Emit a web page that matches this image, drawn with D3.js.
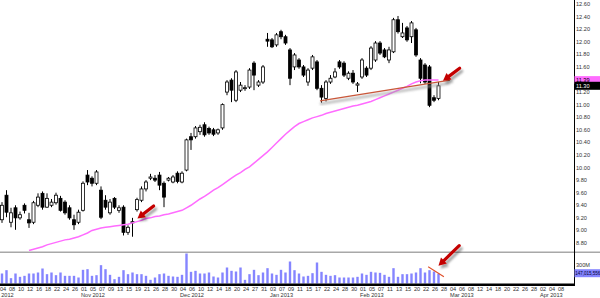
<!DOCTYPE html>
<html>
<head>
<meta charset="utf-8">
<script src="https://cdn.jsdelivr.net/npm/d3@7"></script>
<style>
  body { margin: 0; background: #fff; }
  svg { display: block; font-family: "Liberation Sans", Arial, sans-serif; }
</style>
</head>
<body>
<div id="chart"></div>
<script>
var svgWidth = 600;
var svgHeight = 298;

// trading calendar
var firstDay = "2012-10-01";
var lastDay = "2013-04-09";
var dataStart = "2012-10-04";
var holidays = ["2012-10-29", "2012-10-30", "2012-11-22", "2012-12-25",
  "2013-01-01", "2013-01-21", "2013-02-18", "2013-03-29"];

// daily candles, Oct 04 2012 .. Feb 27 2013
var open = [9.17, 9.56, 9.13, 9.36, 9.20, 9.40, 9.17, 9.13, 9.40, 9.59,
  9.37, 9.40, 9.44, 9.51, 9.45, 9.36, 9.17, 9.13, 9.32, 9.88,
  9.83, 9.75, 9.64, 9.48, 9.28, 9.51, 9.32, 9.37, 8.97, 9.12,
  9.33, 9.48, 9.66, 9.83, 9.83, 9.88, 9.75, 9.80, 9.77, 9.91,
  9.77, 9.96, 10.49, 10.49, 10.57, 10.68, 10.62, 10.60, 10.55, 10.63,
  11.20, 11.39, 11.07, 11.23, 11.26, 11.28, 11.66, 11.31, 11.36, 12.04,
  12.03, 11.95, 12.16, 12.08, 11.87, 11.60, 11.71, 11.60, 11.36, 11.58,
  11.68, 11.26, 11.10, 11.36, 11.44, 11.68, 11.66, 11.42, 11.50, 11.31,
  11.44, 11.58, 11.58, 11.71, 11.98, 11.87, 11.71, 11.84, 12.35, 12.08,
  12.22, 12.08, 12.19, 11.71, 11.63, 11.60, 11.11, 11.10];
var high = [9.45, 9.64, 9.36, 9.40, 9.30, 9.43, 9.28, 9.47, 9.59, 9.62,
  9.59, 9.50, 9.60, 9.55, 9.48, 9.40, 9.25, 9.33, 9.78, 9.96,
  9.86, 9.96, 9.70, 9.56, 9.50, 9.53, 9.40, 9.40, 9.08, 9.20,
  9.52, 9.70, 9.80, 9.90, 9.88, 9.93, 9.78, 9.85, 9.88, 9.94,
  9.94, 10.46, 10.55, 10.66, 10.68, 10.72, 10.65, 10.63, 10.62, 11.02,
  11.39, 11.42, 11.55, 11.36, 11.31, 11.58, 11.69, 11.39, 11.63, 12.14,
  12.06, 12.14, 12.19, 12.11, 11.90, 11.82, 11.74, 11.63, 11.58, 11.79,
  11.71, 11.31, 11.39, 11.47, 11.58, 11.71, 11.69, 11.53, 11.55, 11.36,
  11.74, 11.61, 11.93, 12.01, 12.01, 11.90, 11.92, 12.38, 12.41, 12.30,
  12.25, 12.33, 12.22, 11.74, 11.66, 11.63, 11.15, 11.36];
var low = [9.12, 9.21, 9.05, 9.01, 9.17, 9.27, 9.04, 9.10, 9.37, 9.33,
  9.36, 9.37, 9.41, 9.30, 9.25, 9.17, 9.01, 9.10, 9.30, 9.72,
  9.70, 9.72, 9.18, 9.33, 9.25, 9.34, 9.28, 8.92, 8.93, 8.90,
  9.30, 9.45, 9.62, 9.80, 9.77, 9.64, 9.37, 9.78, 9.75, 9.75,
  9.75, 9.94, 10.28, 10.46, 10.52, 10.49, 10.52, 10.50, 10.52, 10.60,
  11.15, 11.04, 11.04, 11.20, 11.22, 11.25, 11.23, 11.28, 11.33, 11.92,
  11.90, 11.92, 12.04, 11.95, 11.31, 11.55, 11.57, 11.44, 11.30, 11.55,
  11.23, 11.03, 11.05, 11.33, 11.42, 11.57, 11.44, 11.39, 11.33, 11.20,
  11.41, 11.44, 11.55, 11.68, 11.79, 11.74, 11.66, 11.82, 12.13, 12.06,
  12.00, 11.98, 11.76, 11.34, 11.33, 10.96, 11.04, 11.07];
var close = [9.40, 9.29, 9.28, 9.20, 9.25, 9.32, 9.12, 9.44, 9.53, 9.37,
  9.51, 9.45, 9.56, 9.32, 9.28, 9.20, 9.09, 9.29, 9.75, 9.77,
  9.75, 9.93, 9.21, 9.37, 9.45, 9.37, 9.36, 8.97, 9.05, 9.14,
  9.49, 9.66, 9.77, 9.85, 9.80, 9.72, 9.53, 9.83, 9.85, 9.78,
  9.91, 10.44, 10.44, 10.63, 10.64, 10.52, 10.55, 10.53, 10.60, 11.00,
  11.36, 11.23, 11.52, 11.31, 11.27, 11.55, 11.47, 11.36, 11.60, 12.01,
  11.92, 12.11, 12.08, 11.98, 11.42, 11.79, 11.60, 11.47, 11.55, 11.76,
  11.26, 11.12, 11.36, 11.42, 11.52, 11.60, 11.47, 11.50, 11.36, 11.33,
  11.71, 11.47, 11.90, 11.98, 11.82, 11.76, 11.87, 12.35, 12.16, 12.14,
  12.03, 12.30, 11.79, 11.42, 11.36, 10.99, 11.07, 11.30];
// volume in millions of shares
var volume = [150, 200, 80, 150, 100, 115, 150, 150, 165, 225,
  140, 165, 125, 165, 115, 115, 115, 90, 205, 215,
  115, 125, 275, 215, 130, 65, 100, 200, 140, 165,
  140, 140, 115, 55, 90, 140, 150, 115, 105, 100,
  130, 450, 175, 190, 150, 150, 165, 105, 90, 165,
  240, 190, 180, 240, 55, 140, 205, 125, 165, 230,
  150, 130, 205, 165, 330, 200, 150, 105, 115, 155,
  315, 175, 130, 115, 125, 90, 90, 90, 90, 100,
  150, 130, 175, 165, 160, 130, 100, 230, 100, 140,
  140, 150, 165, 230, 165, 200, 180, 147.015556];
// moving average (magenta), null where it is off the panel
var ma = [null, null, null, null, null, null, 8.68, 8.70, 8.72, 8.74,
  8.77, 8.79, 8.81, 8.83, 8.85, 8.86, 8.88, 8.90, 8.93, 8.96,
  9.00, 9.02, 9.04, 9.05, 9.06, 9.07, 9.08, 9.09, 9.10, 9.12,
  9.14, 9.16, 9.19, 9.20, 9.22, 9.23, 9.25, 9.26, 9.28, 9.30,
  9.32, 9.36, 9.40, 9.45, 9.50, 9.54, 9.59, 9.64, 9.68, 9.73,
  9.78, 9.83, 9.88, 9.92, 9.97, 10.01, 10.07, 10.13, 10.19, 10.25,
  10.32, 10.39, 10.46, 10.53, 10.59, 10.65, 10.70, 10.73, 10.76, 10.79,
  10.81, 10.83, 10.86, 10.88, 10.90, 10.92, 10.94, 10.96, 10.98, 10.99,
  11.01, 11.03, 11.05, 11.08, 11.11, 11.14, 11.17, 11.20, 11.23, 11.26,
  11.29, 11.33, 11.36, 11.38, 11.39, 11.39, 11.39, 11.39];

var priceTicks = [8.80, 9.00, 9.20, 9.40, 9.60, 9.80, 10.00, 10.20, 10.40, 10.60,
  10.80, 11.00, 11.20, 11.40, 11.60, 11.80, 12.00, 12.20, 12.40, 12.60];
var volumeTicks = [300];

var parseDay = d3.timeParse("%Y-%m-%d");
var formatDay = d3.timeFormat("%Y-%m-%d");

// weekdays minus exchange holidays
var days = d3.timeDay.range(parseDay(firstDay), d3.timeDay.offset(parseDay(lastDay), 1))
  .filter(d => d.getDay() % 6 !== 0 && holidays.indexOf(formatDay(d)) < 0)
  .map(formatDay);

var startIdx = days.indexOf(dataStart);
var step = 4.5;
var axisX = 574.5;

var x = d3.scaleBand()
  .domain(days)
  .range([-startIdx * step, (days.length - startIdx) * step])
  .padding(0);

var y = d3.scaleLinear().domain([8.673, 12.664]).range([251, 0]);
var yVol = d3.scaleLinear().domain([0, 465]).range([283.5, 252.5]);

var candles = close.map(function(c, i) {
  return {
    date: days[startIdx + i],
    open: open[i], high: high[i], low: low[i], close: c,
    volume: volume[i], ma: ma[i]
  };
});

function cx(d) { return x(d.date) + 2; }
// position for fractional day index (annotations)
function xAt(i) { return x(dataStart) + i * x.step() + 2; }

var svg = d3.select("#chart")
  .append("svg")
  .attr("width", svgWidth)
  .attr("height", svgHeight);

var defs = svg.append("defs");
defs.append("clipPath").attr("id", "priceClip")
  .append("rect").attr("x", 0).attr("y", 0).attr("width", axisX).attr("height", 251);
defs.append("filter").attr("id", "shadow")
  .attr("x", "-50%").attr("y", "-50%").attr("width", "200%").attr("height", "200%")
  .append("feDropShadow")
  .attr("dx", 2).attr("dy", 3).attr("stdDeviation", 1.3)
  .attr("flood-color", "#000").attr("flood-opacity", 0.35);
defs.append("filter").attr("id", "blur")
  .append("feGaussianBlur").attr("stdDeviation", 1);

// panel separator
svg.append("line")
  .attr("x1", 0).attr("x2", svgWidth)
  .attr("y1", 252.2).attr("y2", 252.2)
  .attr("stroke", "#a8a8a8").attr("stroke-width", 1.4);

var priceGroup = svg.append("g").attr("clip-path", "url(#priceClip)");

// wicks
priceGroup.selectAll(".wick")
  .data(candles)
  .enter()
  .append("line")
  .attr("class", "wick")
  .attr("x1", d => cx(d)).attr("x2", d => cx(d))
  .attr("y1", d => y(d.high)).attr("y2", d => y(d.low))
  .attr("stroke", "#000").attr("stroke-width", 1);

// bodies
priceGroup.selectAll(".body")
  .data(candles)
  .enter()
  .append("rect")
  .attr("class", "body")
  .attr("x", d => cx(d) - 1.5)
  .attr("width", 3)
  .attr("y", d => y(Math.max(d.open, d.close)))
  .attr("height", d => Math.max(1, y(Math.min(d.open, d.close)) - y(Math.max(d.open, d.close))))
  .attr("fill", d => d.close >= d.open ? "#fff" : "#000")
  .attr("stroke", "#000")
  .attr("stroke-width", 0.8);

// moving average
var maLine = d3.line()
  .defined(d => d.ma !== null)
  .x(d => cx(d))
  .y(d => y(d.ma));

priceGroup.append("path")
  .datum(candles)
  .attr("d", maLine)
  .attr("fill", "none")
  .attr("stroke", "#ff6cff")
  .attr("stroke-width", 1.5);

// support line drawn on the chart
var trend = [[70.67, 11.06], [99.56, 11.39]];
priceGroup.append("line")
  .attr("x1", xAt(trend[0][0])).attr("y1", y(trend[0][1]) + 3)
  .attr("x2", xAt(trend[1][0])).attr("y2", y(trend[1][1]) + 3)
  .attr("stroke", "#999").attr("stroke-opacity", 0.6).attr("stroke-width", 3)
  .attr("filter", "url(#blur)");
priceGroup.append("line")
  .attr("x1", xAt(trend[0][0])).attr("y1", y(trend[0][1]))
  .attr("x2", xAt(trend[1][0])).attr("y2", y(trend[1][1]))
  .attr("stroke", "#c9573a").attr("stroke-width", 1.5);

// volume bars
svg.selectAll(".vol")
  .data(candles)
  .enter()
  .append("rect")
  .attr("class", "vol")
  .attr("x", d => cx(d) - 1.2)
  .attr("width", 2.4)
  .attr("y", d => yVol(d.volume))
  .attr("height", d => yVol(0) - yVol(d.volume))
  .attr("fill", "#8585ff");

// red mark over the last volume bars
var volMark = [[94.7, 252], [98.2, 102]];
svg.append("line")
  .attr("x1", xAt(volMark[0][0])).attr("y1", yVol(volMark[0][1]))
  .attr("x2", xAt(volMark[1][0])).attr("y2", yVol(volMark[1][1]))
  .attr("stroke", "#e0502a").attr("stroke-width", 1.1);

// bottom axis line
svg.append("line")
  .attr("x1", 0).attr("x2", axisX)
  .attr("y1", 284.8).attr("y2", 284.8)
  .attr("stroke", "#000").attr("stroke-width", 2.6);

// right axis line
svg.append("line")
  .attr("x1", axisX).attr("x2", axisX)
  .attr("y1", 0).attr("y2", 286)
  .attr("stroke", "#000").attr("stroke-width", 1);

// day labels, every other trading day
var labelDays = days.filter((d, i) => i % 2 === 1 && x(d) < 565);
svg.selectAll(".dayLabel")
  .data(labelDays)
  .enter()
  .append("text")
  .attr("x", d => x(d))
  .attr("y", 291)
  .attr("font-size", 5.6)
  .attr("fill", "#333")
  .text(d => d.slice(8, 10));

// month labels under first labelled day of each month
var monthFormat = d3.timeFormat("%b %Y");
var monthDays = labelDays.filter((d, i) => i === 0 || d.slice(0, 7) !== labelDays[i - 1].slice(0, 7));
svg.selectAll(".monthLabel")
  .data(monthDays)
  .enter()
  .append("text")
  .attr("x", d => x(d))
  .attr("y", 297.3)
  .attr("font-size", 5.6)
  .attr("fill", "#333")
  .text(d => monthFormat(parseDay(d)));

// price labels on the right
svg.selectAll(".priceLabel")
  .data(priceTicks)
  .enter()
  .append("text")
  .attr("x", axisX + 1.5)
  .attr("y", d => y(d) + 2)
  .attr("font-size", 5.6)
  .attr("fill", "#333")
  .text(d => d3.format(".2f")(d));

svg.selectAll(".volLabel")
  .data(volumeTicks)
  .enter()
  .append("text")
  .attr("x", axisX + 1.5)
  .attr("y", d => yVol(d) + 3.5)
  .attr("font-size", 5.6)
  .attr("fill", "#333")
  .text(d => d + "M");

// last value boxes
var last = candles[candles.length - 1];

svg.append("rect")
  .attr("x", axisX).attr("y", y(last.ma) - 4)
  .attr("width", svgWidth - axisX).attr("height", 7.5)
  .attr("fill", "#ff6cff");
svg.append("text")
  .attr("x", axisX + 1.5).attr("y", y(last.ma) + 2)
  .attr("font-size", 5.6).attr("fill", "#000")
  .text(d3.format(".2f")(last.ma));

svg.append("rect")
  .attr("x", axisX).attr("y", y(last.close) - 4)
  .attr("width", svgWidth - axisX).attr("height", 8)
  .attr("fill", "#000");
svg.append("text")
  .attr("x", axisX + 1.5).attr("y", y(last.close) + 2)
  .attr("font-size", 5.6).attr("fill", "#fff")
  .text(d3.format(".2f")(last.close));

svg.append("rect")
  .attr("x", axisX).attr("y", yVol(last.volume) - 4.5)
  .attr("width", svgWidth - axisX).attr("height", 8)
  .attr("fill", "#8585ff");
svg.append("text")
  .attr("x", axisX + 0.8).attr("y", yVol(last.volume) + 1.8)
  .attr("font-size", 4.5).attr("fill", "#000033")
  .text(d3.format(",")(Math.round(last.volume * 1e6)));

// red arrows
function drawArrow(x1, y1, x2, y2) {
  var dx = x2 - x1, dy = y2 - y1;
  var len = Math.sqrt(dx * dx + dy * dy);
  var ux = dx / len, uy = dy / len;
  var headLen = 7.5, headW = 4.2;
  var bx = x2 - ux * headLen, by = y2 - uy * headLen;
  var g = svg.append("g").attr("filter", "url(#shadow)");
  g.append("line")
    .attr("x1", x1).attr("y1", y1)
    .attr("x2", bx + ux * 1.5).attr("y2", by + uy * 1.5)
    .attr("stroke", "#c40000").attr("stroke-width", 3.2)
    .attr("stroke-linecap", "round");
  g.append("polygon")
    .attr("points", [
      [x2, y2],
      [bx - uy * headW, by + ux * headW],
      [bx + uy * headW, by - ux * headW]
    ].map(p => p.join(",")).join(" "))
    .attr("fill", "#c40000");
}

// arrows given as [day index, value] tail -> tip
var priceArrows = [
  [[33.7, 9.39], [30.1, 9.19]],
  [[101.7, 11.58], [98.0, 11.38]]
];
priceArrows.forEach(a => drawArrow(xAt(a[0][0]), y(a[0][1]), xAt(a[1][0]), y(a[1][1])));

var volArrows = [
  [[101.6, 567], [97.0, 267]]
];
volArrows.forEach(a => drawArrow(xAt(a[0][0]), yVol(a[0][1]), xAt(a[1][0]), yVol(a[1][1])));
</script>
</body>
</html>
